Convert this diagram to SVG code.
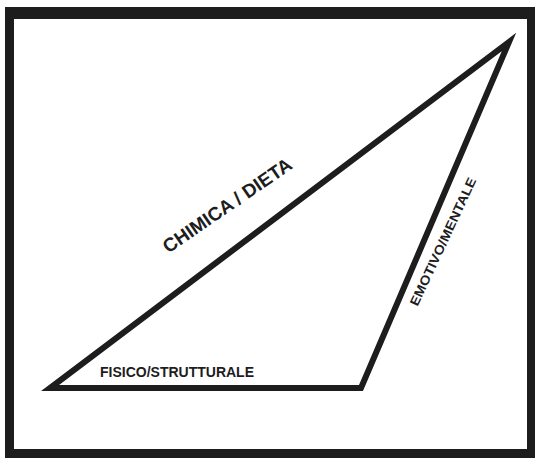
<svg xmlns="http://www.w3.org/2000/svg" width="535" height="458" viewBox="0 0 535 458">
<style>
.lbl{font-family:"Liberation Sans",Arial,sans-serif;font-weight:bold;fill:#1d1d1d}
</style>
<rect x="0" y="0" width="535" height="458" fill="#ffffff"/>
<g id="frame">
<path d="M5,7 H536 V459 H5 Z M14,19 V449 H527 V19 Z" fill="#1d1d1d" fill-rule="evenodd"/>
</g>
<g id="connectors">
<polygon points="50,388 361,388 509,42" fill="none" stroke="#1d1d1d" stroke-width="6" stroke-linejoin="miter" stroke-miterlimit="6"/>
</g>
<g id="chimica">
<text class="lbl" font-size="19" text-anchor="middle" transform="translate(227,205) rotate(-34.5)" y="7">CHIMICA / DIETA</text>
</g>
<g id="emotivo">
<text class="lbl" font-size="13" text-anchor="middle" transform="translate(442.5,241.5) rotate(-65)" y="5" textLength="140" lengthAdjust="spacingAndGlyphs">EMOTIVO/MENTALE</text>
</g>
<g id="fisico">
<text class="lbl" font-size="14" x="100" y="377">FISICO/STRUTTURALE</text>
</g>
</svg>
